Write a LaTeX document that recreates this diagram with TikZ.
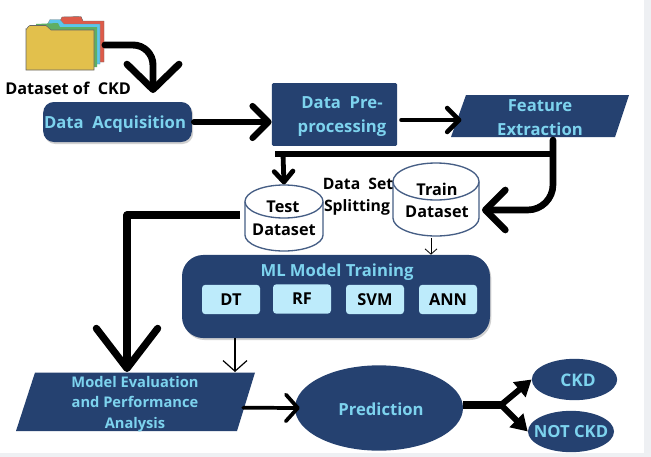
\documentclass[tikz,border=0pt]{standalone}
\usepackage{fontspec}
\setmainfont{Open Sans}
\usetikzlibrary{arrows.meta,shapes.geometric,shadows,calc}
\definecolor{navy}{HTML}{254170}
\definecolor{sky}{HTML}{7DD3EE}
\definecolor{pale}{HTML}{BDEBFB}
\definecolor{strip}{HTML}{EEF0F3}
\definecolor{fred}{HTML}{DE5B49}
\definecolor{fblue}{HTML}{5CC6EA}
\definecolor{fgreen}{HTML}{5FAE62}
\definecolor{fyellow}{HTML}{E2C04C}
\tikzset{
 x=0.75pt,y=-0.75pt,
 softshadow/.style={drop shadow={shadow xshift=1pt,shadow yshift=-1.5pt,opacity=0.18,fill=black}},
 navytext/.style={text=sky,font=\bfseries\fontsize{12.5}{18}\selectfont,align=center,inner sep=0pt},
 blacktext/.style={text=black,font=\fontsize{12.2}{14}\selectfont\bfseries,inner sep=0pt,align=center},
 modelbox/.style={fill=pale,rounded corners=2.5pt,minimum width=43.5pt,minimum height=22pt,inner sep=0pt,text=black,font=\fontsize{12.3}{13}\selectfont\bfseries},
 ellnode/.style={ellipse,fill=navy,inner sep=0pt},
 elltext/.style={text=sky,font=\bfseries\fontsize{12.5}{14}\selectfont,inner sep=0pt},
 linkbase/.style={line cap=round,line join=round},
 cylline/.style={draw=navy!85!white,line width=1pt,fill=white},
}
\begin{document}
\begin{tikzpicture}
\useasboundingbox (0,0) rectangle (651,457);
\fill[white] (0,0) rectangle (651,457);
\fill[strip] (644,0) rectangle (651,457);
\fill[strip] (0,453) rectangle (651,457);
% folder
\path[draw=black!60,line width=0.3pt,fill=fred] (60,21) -- (62,17) -- (81,16.5) -- (83,21) -- (104,21) -- (104,62) -- (60,62) -- cycle;
\path[draw=black!50,line width=0.2pt,fill=fblue] (47,25) -- (50,19.5) -- (60,19.5) -- (64,24) -- (100,24) -- (100,64) -- (47,64) -- cycle;
\path[fill=fgreen] (36,24) -- (58,23) -- (60,27) -- (97,27) -- (97,67) -- (36,67) -- cycle;
\path[draw=black!60,line width=0.4pt,fill=fyellow] (26,29) to[out=-90,in=180] (30,25.5) -- (46,25.5) -- (51,30) -- (94,30) -- (94,70) -- (26,70) -- cycle;
\coordinate (folder) at (105,45);
\node[blacktext,anchor=west] (dslabel) at (5,88) {Dataset of\ \ CKD};
% boxes
\node[fill=navy,rounded corners=8pt,softshadow,minimum width=111.5pt,minimum height=30pt,inner sep=0pt] (acq) at (117.5,122) {};
\node[navytext] (acqt) at (115,124) {Data\ \ Acquisition};
\node[fill=navy,rounded corners=1pt,minimum width=94pt,minimum height=47pt,inner sep=0pt] (pre) at (334.5,114.5) {};
\node[navytext] (pret) at (342,117) {Data\ \ Pre-\\processing};
\fill[navy] (466,95) -- (629,95) -- (615,137) -- (451,137) -- cycle;
\node[minimum width=110pt,minimum height=31.5pt,navytext] (feat) at (540,117.5) {Feature\\Extraction};
% cylinders
\path[cylline] (245,201.5) -- (245,235) arc[start angle=180,end angle=0,x radius=39,y radius=16] -- (323,201.5);
\path[cylline] (284,201.5) ellipse[x radius=39,y radius=16.5];
\node[minimum width=58.5pt,minimum height=50pt,inner sep=0pt] (test) at (284,218) {};
\node[blacktext] (testa) at (283,207) {Test};
\node[blacktext] (testb) at (284,230) {Dataset};
\path[cylline] (393,181.5) -- (393,218) arc[start angle=180,end angle=0,x radius=43,y radius=18] -- (479,181.5);
\path[cylline] (436,181.5) ellipse[x radius=43,y radius=18.5];
\node[minimum width=64.5pt,minimum height=55pt,inner sep=0pt] (train) at (436,199.5) {};
\node[blacktext] (traina) at (437,189) {Train};
\node[blacktext] (trainb) at (437,212) {Dataset};
\node[blacktext,font=\fontsize{11.8}{14}\selectfont\bfseries] (s1) at (358,184) {Data\ \ Set};
\node[blacktext,font=\fontsize{11.8}{14}\selectfont\bfseries] (s2) at (357,207) {Splitting};
% ML
\node[fill=navy,rounded corners=16pt,softshadow,minimum width=231pt,minimum height=62.3pt,inner sep=0pt] (ml) at (336,296.5) {};
\node[navytext] (mlt) at (337,272) {ML Model Training};
\node[modelbox] (dt) at (231,299.5) {DT};
\node[modelbox] (rf) at (302,299) {RF};
\node[modelbox] (svm) at (375,299.5) {SVM};
\node[modelbox] (ann) at (448,299.5) {ANN};
% evaluation
\fill[navy] (35,372.5) -- (255,372.5) -- (237,431) -- (16,431) -- cycle;
\node[minimum width=150pt,minimum height=44pt,inner sep=0pt] (eval) at (135,401.7) {};
\node[navytext,font=\bfseries\fontsize{11}{15.4}\selectfont] (evalt) at (135,404) {Model Evaluation\\and Performance\\Analysis};
% outcomes
\node[ellnode,minimum width=126pt,minimum height=64pt] (pred) at (379,408) {};
\node[elltext] (predt) at (381,409) {Prediction};
\node[ellnode,minimum width=64pt,minimum height=31pt] (ckd) at (574.5,379.5) {};
\node[elltext,font=\bfseries\fontsize{13}{14}\selectfont] (ckdt) at (578,380) {CKD};
\node[ellnode,minimum width=64.5pt,minimum height=31pt,label={[elltext]center:NOT CKD}] (notckd) at (571,431.5) {};
% connectors
\coordinate (acqin) at (153,93);
\draw[linkbase,line width=5.2pt,rounded corners=15pt,-{Straight Barb[length=19pt,width=39pt,round]}] (folder) -- (folder -| acqin) -- (acqin);
\draw[linkbase,line width=4.6pt,-{Straight Barb[length=12pt,width=24pt,round]}] ($(acq.east)+(2,0)$) -- (acq.east -| pre.west);
\draw[linkbase,line width=3.4pt,-{Straight Barb[length=9pt,width=18pt,round]}] ($(pre.east)+(4,5.5)$) -- ($(pre.east)+(64,5.5)$);
\coordinate (feed) at (553,140);
\coordinate (busl) at (275,154);
\coordinate (trainin) at (482,210);
\draw[line width=3.8pt] (busl) -- (feed |- busl);
\draw[linkbase,line width=5pt,rounded corners=19pt,-{Straight Barb[length=15pt,width=30pt,round]}] (feed) -- (feed |- trainin) -- (trainin);
\draw[linkbase,line cap=butt,line width=3.6pt,-{Straight Barb[length=8pt,width=14pt,round]}] (283,154) -- (test.north);
\draw[linkbase,line cap=butt,line width=5.4pt,-{Straight Barb[length=30pt,width=46pt,round]}] (240,215) -- (127,215) -- (127,372);
\draw[line width=0.6pt,-{Straight Barb[length=4pt,width=9pt]}] (431,238) -- (ml.north -| 431,0);
\draw[line width=0.9pt,-{Straight Barb[length=8pt,width=18pt]}] (235,338) -- (235,372);
\draw[linkbase,line width=2.8pt,-{Straight Barb[length=9pt,width=20pt,round]}] ($(eval.east)+(8,6)$) -- ($(pred.west)+(5,0)$);
\coordinate (fork) at (501,405);
\draw[line width=5.5pt] (pred.east |- fork) -- (fork);
\draw[line width=4.5pt,-{Triangle[length=12pt,width=14pt]}] (fork) -- (ckd.west);
\draw[line width=4.5pt,-{Triangle[length=12pt,width=14pt]}] (fork) -- (notckd.west);
\end{tikzpicture}
\end{document}
